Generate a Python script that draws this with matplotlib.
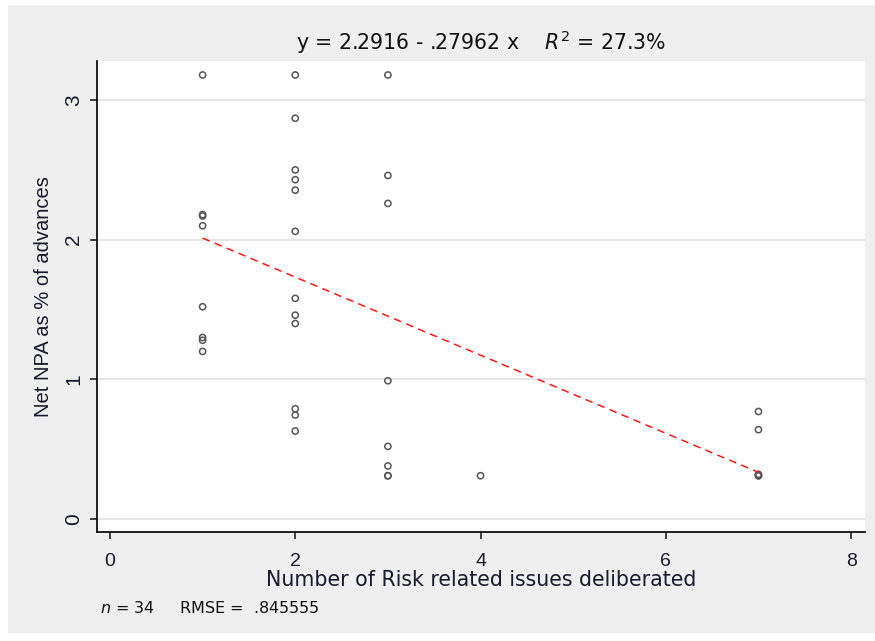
import matplotlib
matplotlib.use("Agg")
import matplotlib.pyplot as plt
from matplotlib.patches import Rectangle
import numpy as np

plt.rcParams['font.family'] = ['Liberation Sans', 'DejaVu Sans']

# Data
risk_issues = [1, 1, 1, 1, 1, 1, 1, 1,
               2, 2, 2, 2, 2, 2, 2, 2, 2, 2, 2, 2,
               3, 3, 3, 3, 3, 3, 3, 3,
               4,
               7, 7, 7, 7, 7]
net_npa = [3.18, 2.18, 2.17, 2.10, 1.52, 1.30, 1.28, 1.20,
           3.18, 2.87, 2.50, 2.43, 2.355, 2.06, 1.58, 1.46, 1.40, 0.79, 0.745, 0.63,
           3.18, 2.46, 2.26, 0.99, 0.52, 0.38, 0.31, 0.31,
           0.31,
           0.77, 0.64, 0.32, 0.31, 0.31]
intercept = 2.2916
slope = -0.27962
r2_pct = 27.3
rmse = ".845555"
x_ticks = [0, 2, 4, 6, 8]
y_ticks = [0, 1, 2, 3]

WIDE = ['DejaVu Sans']
TXT = '#1a1a2e'

W, H = 875, 641
fig = plt.figure(figsize=(W / 100, H / 100), dpi=100, facecolor='white')
# gray graph region
fig.patches.append(Rectangle((8 / W, 1 - 633 / H), (W - 8) / W, (633 - 5) / H,
                             transform=fig.transFigure, facecolor='#efefef',
                             edgecolor='none', zorder=-10))

ax = fig.add_axes([97 / W, 1 - 532 / H, (865 - 97) / W, (532 - 61) / H])
ax.set_zorder(1)
ax.set_facecolor('white')
ax.set_xlim(-0.14, 8.15)
ax.set_ylim(-0.093, 3.28)

for s in ['top', 'right']:
    ax.spines[s].set_visible(False)
for s in ['left', 'bottom']:
    ax.spines[s].set_color('#111111')
    ax.spines[s].set_linewidth(1.3)

ax.set_yticks(y_ticks)
ax.set_xticks(x_ticks)
ax.set_yticklabels([str(v) for v in y_ticks], rotation=90, va='center')
ax.tick_params(axis='both', length=5, width=1.1, color='#111111',
               labelcolor=TXT)
ax.tick_params(axis='x', labelsize=14, pad=10)
ax.tick_params(axis='y', labelsize=15, pad=5)
ax.grid(axis='y', color='#e6e6e6', linewidth=1.6)
ax.grid(axis='x', visible=False)
ax.set_axisbelow(True)

ax.scatter(risk_issues, net_npa, s=20, facecolors='none', edgecolors='#555555',
           linewidths=1.1, zorder=3)

xs = np.array([min(risk_issues), max(risk_issues)])
ax.plot(xs, intercept + slope * xs, color='#ff1a1a', linewidth=1.1,
        dashes=[5, 3.5], zorder=4)

title = f"y = {intercept:.4f} - {str(abs(slope)).lstrip('0')} x    $\\mathit{{R}}^{{2}}$ = {r2_pct}%"
ax.set_title(title, fontsize=14.8, color='#111111', pad=8, family=WIDE)

ax.set_xlabel("Number of Risk related issues deliberated", fontsize=14.8,
              color=TXT, labelpad=0, family=WIDE)
ax.set_ylabel("Net NPA as % of advances", fontsize=14.5, color=TXT, labelpad=8)

fig.text(100 / W, 1 - 608 / H, f"$\\mathit{{n}}$ = {len(risk_issues)}     RMSE =  {rmse}",
         fontsize=11.5, color='#111111', va='center', family=WIDE)

fig.savefig("out.png", dpi=100, facecolor=fig.get_facecolor())
